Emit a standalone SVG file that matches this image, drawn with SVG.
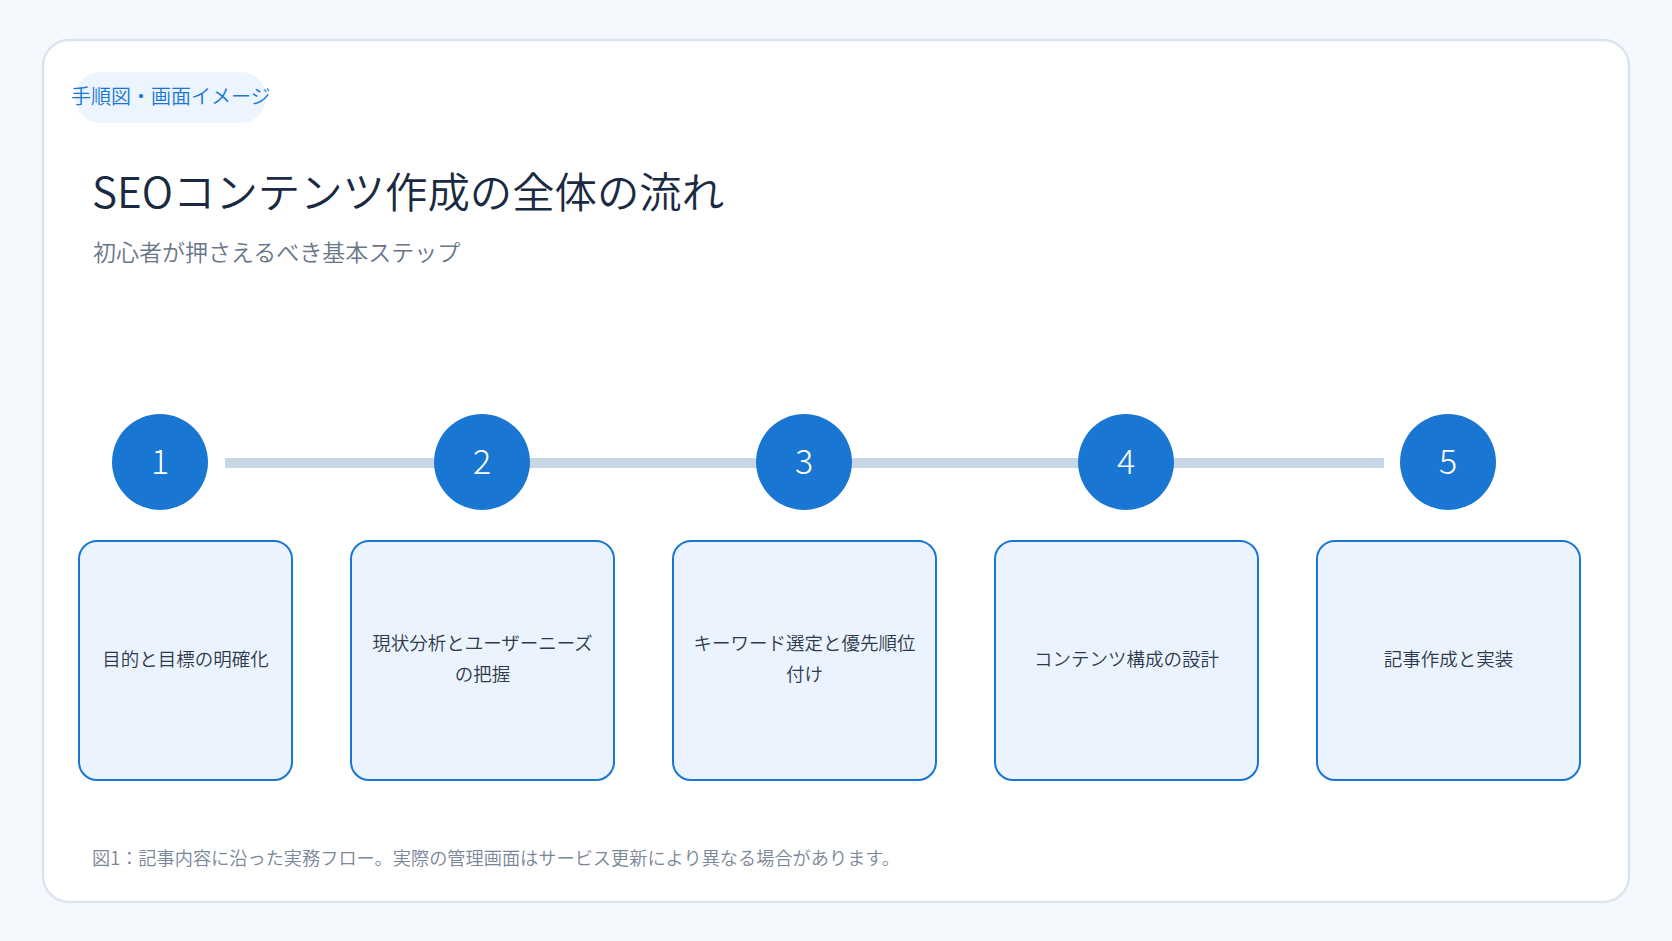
<svg xmlns="http://www.w3.org/2000/svg" width="1672" height="941" viewBox="0 0 1672 941">
<style>
text{font-family:"Noto Sans CJK JP","Noto Sans",sans-serif}
.num{fill:#ffffff;font-size:34px;text-anchor:middle;font-weight:300}
.circ{fill:#1976d2}
.box{fill:#ebf4fe;stroke:#1976d2;stroke-width:2}
.lbl{fill:#2e3a4b;font-size:18.5px;text-anchor:middle;font-weight:350}
</style>
<rect x="0" y="0" width="1672" height="941" fill="#f5f8fc"/>
<rect x="43" y="40" width="1586" height="862" rx="26" fill="#ffffff" stroke="#dae5f0" stroke-width="2.5"/>
<g id="badge">
<rect x="75" y="72" width="191" height="51" rx="25.5" fill="#ecf4fe"/>
<text x="71" y="104" font-size="20" fill="#1976d2" font-weight="350">手順図・画面イメージ</text>
</g>
<text id="title" x="92" y="208" font-size="42.4" fill="#1a2a42" font-weight="350">SEOコンテンツ作成の全体の流れ</text>
<text id="subtitle" x="93" y="261" font-size="23" fill="#687689" font-weight="350">初心者が押さえるべき基本ステップ</text>
<g id="connectors">
<rect x="225" y="458" width="1159" height="10" fill="#c8d7e6"/>
</g>
<g id="step1">
<circle class="circ" cx="160" cy="462" r="48"/>
<text class="num" x="160" y="474">1</text>
<rect class="box" x="79" y="541" width="213" height="239" rx="18"/>
<text class="lbl" x="185.5" y="666">目的と目標の明確化</text>
</g>
<g id="step2">
<circle class="circ" cx="482" cy="462" r="48"/>
<text class="num" x="482" y="474">2</text>
<rect class="box" x="351" y="541" width="263" height="239" rx="18"/>
<text class="lbl" x="482.5" y="650">現状分析とユーザーニーズ</text>
<text class="lbl" x="482.5" y="681">の把握</text>
</g>
<g id="step3">
<circle class="circ" cx="804" cy="462" r="48"/>
<text class="num" x="804" y="474">3</text>
<rect class="box" x="673" y="541" width="263" height="239" rx="18"/>
<text class="lbl" x="804.5" y="650">キーワード選定と優先順位</text>
<text class="lbl" x="804.5" y="681">付け</text>
</g>
<g id="step4">
<circle class="circ" cx="1126" cy="462" r="48"/>
<text class="num" x="1126" y="474">4</text>
<rect class="box" x="995" y="541" width="263" height="239" rx="18"/>
<text class="lbl" x="1126.5" y="666">コンテンツ構成の設計</text>
</g>
<g id="step5">
<circle class="circ" cx="1448" cy="462" r="48"/>
<text class="num" x="1448" y="474">5</text>
<rect class="box" x="1317" y="541" width="263" height="239" rx="18"/>
<text class="lbl" x="1448.5" y="666">記事作成と実装</text>
</g>
<text id="caption" x="92" y="865" font-size="18.2" fill="#7a8699" font-weight="350">図1：記事内容に沿った実務フロー。実際の管理画面はサービス更新により異なる場合があります。</text>
</svg>
